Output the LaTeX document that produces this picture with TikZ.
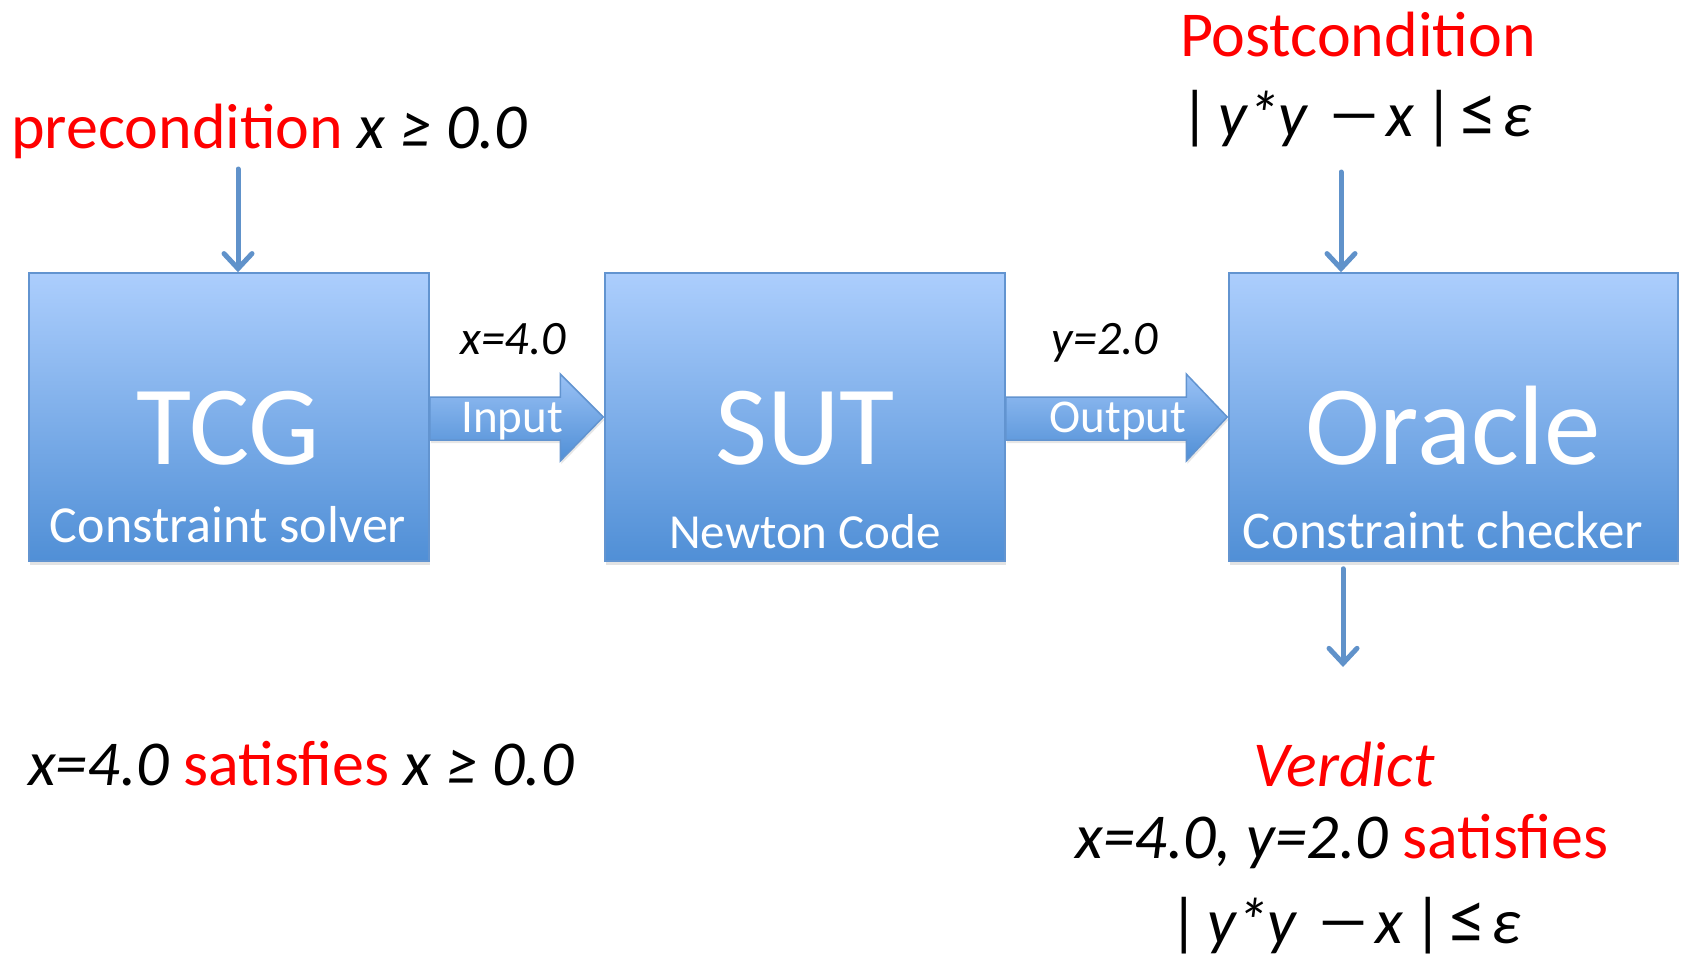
\documentclass[tikz,border=0pt]{standalone}
\usepackage{fontspec}
\setmainfont{Carlito}
\usetikzlibrary{arrows.meta,shadows,calc}
\definecolor{redtxt}{RGB}{255,0,0}
\definecolor{boxtop}{RGB}{172,206,253}
\definecolor{boxbot}{RGB}{80,143,214}
\definecolor{boxline}{RGB}{98,148,208}
\definecolor{arrowblue}{RGB}{96,146,202}
\newcommand{\condformula}{|\hspace{9pt}\textit{y*y}\hspace{18pt}\scalebox{1.7}[1]{−}\hspace{5pt}\textit{x}\hspace{10pt}|\hspace{7pt}\scalebox{1.15}{≤}\hspace{5pt}\textit{ε}}
\begin{document}
\begin{tikzpicture}[x=1pt,y=-1pt,
  box/.style={draw=boxline, line width=1.5pt, top color=boxtop, bottom color=boxbot,
    minimum width=400pt, minimum height=288pt, inner sep=0pt,
    drop shadow={opacity=0.22, shadow xshift=1pt, shadow yshift=-4pt}},
  blockarrow/.style={draw=boxline, line width=1.5pt, top color=boxtop!80!boxbot, bottom color=boxbot,
    line join=miter, drop shadow={opacity=0.2, shadow xshift=1pt, shadow yshift=-3pt}},
  bigtxt/.style={font=\fontsize{113}{120}\selectfont, text=white, anchor=base, inner sep=0pt},
  subtxt/.style={font=\fontsize{52}{56}\selectfont, text=white, anchor=base, inner sep=0pt},
  arrtxt/.style={font=\fontsize{47}{52}\selectfont, text=white, anchor=base, inner sep=0pt},
  valtxt/.style={font=\fontsize{48}{52}\selectfont\itshape, text=black, anchor=base, inner sep=0pt},
  outtxt/.style={font=\fontsize{64}{70}\selectfont, text=black, anchor=base, inner sep=0pt},
  conn/.style={draw=arrowblue, line width=5pt, line cap=round,
    -{Straight Barb[length=15pt, width=28pt, line width=5pt, line cap=round]}},
]
\useasboundingbox (0,0) rectangle (1681,956);

% boxes
\node[box] (tcg) at (229,417) {};
\node[box] (sut) at (805,417) {};
\node[box, minimum width=449pt] (oracle) at (1453.5,417) {};

% box texts
\node[bigtxt] (tcgT) at (228,464) {TCG};
\node[subtxt] (tcgS) at (228,542) {Constraint solver};
\node[bigtxt] (sutT) at (805,464) {SUT};
\node[subtxt, font=\fontsize{49}{54}\selectfont] (sutS) at (805,548) {Newton Code};
\node[bigtxt] (orT) at (1453,464) {Oracle};
\node[subtxt, font=\fontsize{53}{58}\selectfont] (orS) at (1443,548) {Constraint checker};

% block arrows
\path[blockarrow] ($(tcg.east)+(0,-20)$) -- ($(sut.west)+(-44,-20)$) -- ($(sut.west)+(-44,-43)$)
  -- ($(sut.west)+(-1,0)$) -- ($(sut.west)+(-44,44)$) -- ($(sut.west)+(-44,23)$)
  -- ($(tcg.east)+(0,23)$) -- cycle;
\path[blockarrow] ($(sut.east)+(0,-20)$) -- ($(oracle.west)+(-42,-20)$) -- ($(oracle.west)+(-42,-43)$)
  -- ($(oracle.west)+(-1,0)$) -- ($(oracle.west)+(-42,44)$) -- ($(oracle.west)+(-42,23)$)
  -- ($(sut.east)+(0,23)$) -- cycle;
\node[arrtxt] (inT) at (512,432) {Input};
\node[arrtxt] (outT) at (1118,432) {Output};
\node[valtxt] (xval) at (513,354) {x=4.0};
\node[valtxt] (yval) at (1105,354) {y=2.0};

% top texts
\node[outtxt, anchor=base west] (pre) at (11,148) {{\color{redtxt}precondition} \textit{x ≥ 0.0}};
\node[outtxt, text=redtxt] (post) at (1358,56) {Postcondition};
\node[outtxt] (postF) at (1356,136) {\condformula};

% connectors
\coordinate (preA) at (238,169);
\coordinate (postA) at (1341,172);
\coordinate (verA) at (1343,667);
\draw[conn] (preA) -- (preA |- tcg.north);
\draw[conn] (postA) -- (postA |- oracle.north);
\draw[conn] ($(oracle.south -| verA)+(0,7)$) -- (verA);

% bottom texts
\node[outtxt, anchor=base west] (sat) at (28,785) {\textit{x=4.0} {\color{redtxt}satisfies} \textit{x ≥ 0.0}};
\node[outtxt, text=redtxt, font=\fontsize{64}{70}\selectfont\itshape] (verd) at (1344,786) {Verdict};
\node[outtxt] (verd2) at (1342,858) {\textit{x=4.0, y=2.0} {\color{redtxt}satisfies}};
\node[outtxt] (verdF) at (1345,943) {\condformula};
\end{tikzpicture}
\end{document}
